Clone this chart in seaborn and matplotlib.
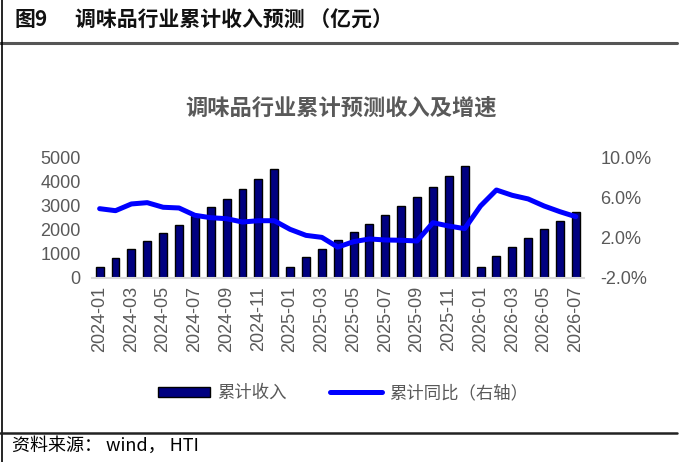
import numpy as np
import pandas as pd
import matplotlib
matplotlib.use('Agg')
import matplotlib.pyplot as plt
import seaborn as sns

# 数据
months = ['2024-01', '2024-02', '2024-03', '2024-04', '2024-05', '2024-06',
          '2024-07', '2024-08', '2024-09', '2024-10', '2024-11', '2024-12',
          '2025-01', '2025-02', '2025-03', '2025-04', '2025-05', '2025-06',
          '2025-07', '2025-08', '2025-09', '2025-10', '2025-11', '2025-12',
          '2026-01', '2026-02', '2026-03', '2026-04', '2026-05', '2026-06',
          '2026-07']
revenue = [430, 830, 1180, 1520, 1870, 2200, 2560, 2950, 3280, 3670, 4080, 4500,
           457, 845, 1205, 1545, 1897, 2243, 2602, 2990, 3350, 3780, 4220, 4640,
           457, 900, 1274, 1633, 2007, 2353, 2727]
yoy = [4.88, 4.68, 5.35, 5.48, 5.02, 4.95, 4.22, 3.98, 3.88, 3.55, 3.68, 3.68,
       2.82, 2.22, 2.02, 1.05, 1.59, 1.86, 1.76, 1.73, 1.66, 3.48, 3.15, 2.89,
       5.15, 6.74, 6.21, 5.85, 5.15, 4.58, 4.08]
left_ticks = [0, 1000, 2000, 3000, 4000, 5000]
right_ticks = [-2, 2, 6, 10]

df = pd.DataFrame({'month': months, 'revenue': revenue, 'yoy': yoy})
df['pos'] = np.arange(len(df))

sns.set_style('white')
plt.rcParams['font.family'] = ['Liberation Sans', 'Noto Sans CJK SC', 'DejaVu Sans']
CJK = ['Noto Sans CJK SC', 'DejaVu Sans']
GRAY = '#595959'

fig = plt.figure(figsize=(6.81, 4.62), dpi=100)

# 外框 / 标题
fig.text(15 / 681, 1 - 20 / 462, '图9', family=CJK,
         fontsize=15, fontweight='bold', va='center', ha='left', color='#111111')
fig.text(75 / 681, 1 - 20 / 462, '调味品行业累计收入预测 （亿元）', family=CJK,
         fontsize=15, fontweight='bold', va='center', ha='left', color='#111111')
fig.add_artist(plt.Line2D([0, 677 / 681], [1 - 42.5 / 462] * 2, color='#555555', lw=2.2))
fig.add_artist(plt.Line2D([2 / 681] * 2, [0, 1], color='black', lw=1.2))
fig.add_artist(plt.Line2D([0, 677 / 681], [1 - 433 / 462] * 2, color='#222222', lw=1.8))
fig.text(12 / 681, 1 - 446 / 462, '资料来源： wind， HTI', family=CJK,
         fontsize=13, va='center', ha='left', color='black')

fig.text(341 / 681, 1 - 108 / 462, '调味品行业累计预测收入及增速', family=CJK,
         fontsize=16, fontweight='bold', va='center', ha='center', color=GRAY)

ax = fig.add_axes([91.7 / 681, 1 - 277.7 / 462, 492 / 681, 120.4 / 462])
sns.barplot(data=df, x='pos', y='revenue', ax=ax, color='#000080', width=0.5,
            edgecolor='black', linewidth=1.0, saturation=1, native_scale=True,
            label='累计收入')
ax.set_xlim(-0.5, len(df) - 0.5)
ax.set_ylim(0, 5000)
ax.set_yticks(left_ticks)
ax.set_yticklabels([str(v) for v in left_ticks], fontsize=13, color=GRAY)
ax.set_xticks(np.arange(0, len(df), 2))
ax.set_xticklabels(months[::2], rotation=90, fontsize=13, color=GRAY)
ax.set_xticks(np.arange(-0.5, len(df) - 1, 2), minor=True)
ax.tick_params(axis='x', which='major', length=0, pad=6)
ax.tick_params(axis='x', which='minor', length=4, color='#d9d9d9', width=1.2)
ax.tick_params(axis='y', length=0, pad=8)
ax.set_xlabel('')
ax.set_ylabel('')
for s in ['top', 'right', 'left']:
    ax.spines[s].set_visible(False)
ax.spines['bottom'].set_color('#d9d9d9')
ax.spines['bottom'].set_linewidth(1.5)

ax2 = ax.twinx()
sns.lineplot(data=df, x='pos', y='yoy', ax=ax2, color='#0000FF', linewidth=3.6,
             label='累计同比（右轴）', legend=False)
ax2.set_ylim(-2, 10)
ax2.set_yticks(right_ticks)
ax2.set_yticklabels([f'{v:.1f}%' for v in right_ticks], fontsize=13, color=GRAY)
ax2.tick_params(axis='y', length=0, pad=12)
ax2.set_ylabel('')
for s in ['top', 'right', 'left', 'bottom']:
    ax2.spines[s].set_visible(False)
ax.set_zorder(1)
ax2.set_zorder(2)
ax2.patch.set_visible(False)

h1, l1 = ax.get_legend_handles_labels()
h2, l2 = ax2.get_legend_handles_labels()
if ax.get_legend() is not None:
    ax.get_legend().remove()
leg = fig.legend(h1 + h2, l1 + l2, loc='center', bbox_to_anchor=(343 / 681, 1 - 393 / 462),
                 ncol=2, frameon=False, prop={'family': CJK, 'size': 12.5},
                 handlelength=3.0, handleheight=0.5, columnspacing=2.5, handletextpad=0.4)
for t in leg.get_texts():
    t.set_color(GRAY)

fig.savefig('out.png', dpi=100)
